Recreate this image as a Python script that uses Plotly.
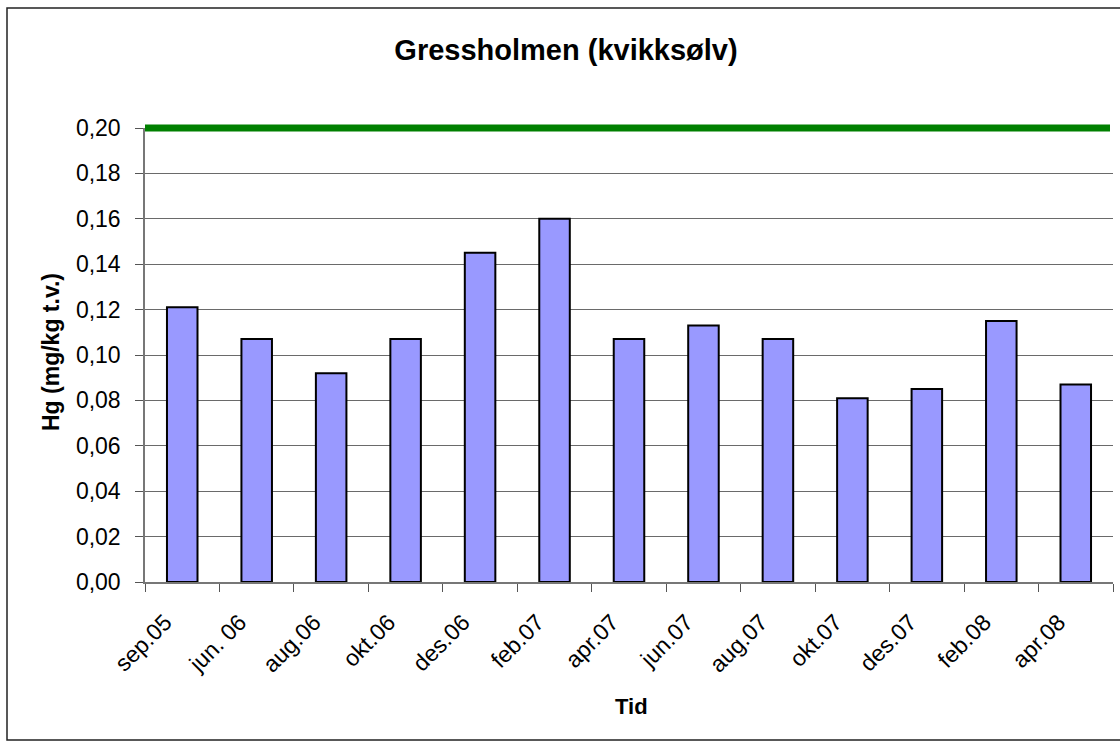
import plotly.graph_objects as go

categories = ["sep.05", "jun. 06", "aug.06", "okt.06", "des.06", "feb.07", "apr.07",
              "jun.07", "aug.07", "okt.07", "des.07", "feb.08", "apr.08"]
hg_values = [0.121, 0.107, 0.092, 0.107, 0.145, 0.160, 0.107,
             0.113, 0.107, 0.081, 0.085, 0.115, 0.087]
limit_value = 0.20
y_max = 0.20
y_ticks = [0.00, 0.02, 0.04, 0.06, 0.08, 0.10, 0.12, 0.14, 0.16, 0.18, 0.20]

W, H = 1120, 747
ML, MR, MT, MB = 145, 7, 128, 165
PW, PH = W - ML - MR, H - MT - MB

def px_x(x):
    return (x - ML) / PW

def px_y(y):
    return (H - MB - y) / PH

FONT = "Liberation Sans, Arial, sans-serif"

fig = go.Figure()
fig.add_trace(go.Bar(
    x=categories, y=hg_values,
    marker=dict(color="#9999FF", line=dict(color="#000000", width=2)),
    showlegend=False,
))

# limit line (0.20) drawn in y-domain units so it is not clipped at the top edge
fig.add_shape(type="line", xref="paper", yref="y domain", x0=0, x1=px_x(1110),
              y0=limit_value / y_max, y1=limit_value / y_max,
              line=dict(color="#008000", width=7), layer="above")

# outer chart border
fig.add_shape(type="rect", xref="paper", yref="paper",
              x0=px_x(7), x1=px_x(1130), y0=px_y(740), y1=px_y(8),
              line=dict(color="#222222", width=1.5), layer="above")

fig.add_annotation(text="<b>Hg (mg/kg t.v.)</b>", xref="paper", yref="paper",
                   x=px_x(51), y=px_y(352), textangle=-90, showarrow=False,
                   xanchor="center", yanchor="middle",
                   font=dict(size=23, family=FONT, color="#000000"))
fig.add_annotation(text="<b>Tid</b>", xref="paper", yref="paper",
                   x=px_x(631), y=px_y(706), showarrow=False,
                   xanchor="center", yanchor="middle",
                   font=dict(size=22, family=FONT, color="#000000"))

fig.update_layout(
    width=W, height=H,
    margin=dict(l=ML, r=MR, t=MT, b=MB, autoexpand=False),
    paper_bgcolor="white", plot_bgcolor="white",
    separators=",.",
    bargap=0.59,
    font=dict(family=FONT, color="#000000", size=20),
    title=dict(text="<b>Gressholmen (kvikksølv)</b>", x=566 / W, xanchor="center",
               y=1 - 50 / H, yanchor="middle", font=dict(size=29, family=FONT)),
)

fig.update_xaxes(
    type="category",
    tickson="boundaries", ticks="outside", ticklen=8, tickcolor="#555555", tickwidth=1,
    showline=True, linecolor="#777777", linewidth=1.5,
    showgrid=False, tickangle=-45, tickfont=dict(size=23, family=FONT),
    ticklabelstandoff=16, ticklabelshift=-17,
    automargin=False,
)
fig.update_yaxes(
    range=[0, y_max], tickvals=y_ticks, tickformat=".2f",
    ticks="outside", ticklen=8, tickcolor="#555555", tickwidth=1,
    showline=True, linecolor="#777777", linewidth=1.5,
    showgrid=True, gridcolor="#6a6a6a", gridwidth=1,
    zeroline=False,
    tickfont=dict(size=23, family=FONT),
    ticklabelstandoff=10,
    automargin=False,
)

fig.write_html("out.html", config={"displayModeBar": False},
               post_script="document.body.style.margin='0';")
